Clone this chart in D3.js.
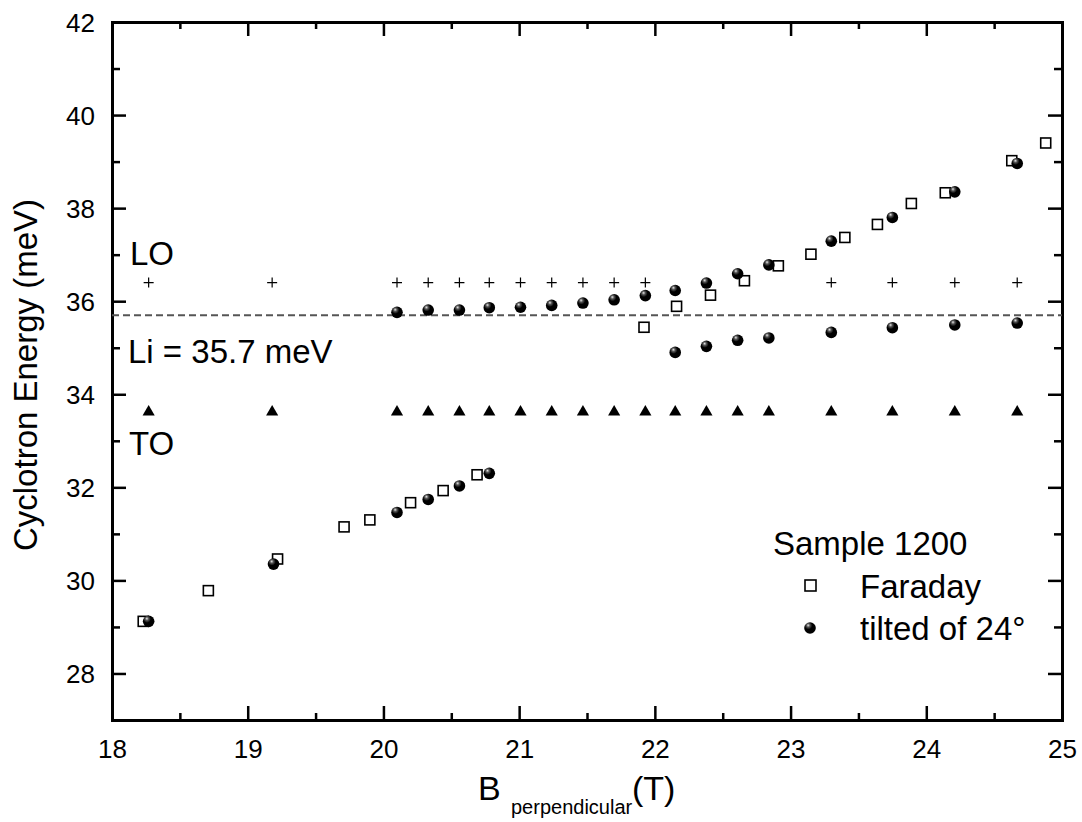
<!DOCTYPE html>
<html>
<head>
<meta charset="utf-8">
<script src="https://cdn.jsdelivr.net/npm/d3@7"></script>
<style>
  html, body { margin: 0; padding: 0; background: #fff; }
  svg text { font-family: "Liberation Sans", Arial, sans-serif; fill: #000; }
</style>
</head>
<body>
<div id="chart"></div>
<script>
// field positions where the phonon reference energies were marked
const toX = [18.27, 19.18, 20.10, 20.33, 20.56, 20.78, 21.01, 21.24, 21.47, 21.70, 21.93,
  22.15, 22.38, 22.61, 22.84, 23.30, 23.75, 24.21, 24.67];
const loX = [18.27, 19.18, 20.10, 20.33, 20.56, 20.78, 21.01, 21.24, 21.47, 21.70, 21.93,
  23.30, 23.75, 24.21, 24.67];
const loEnergy = 36.40;
const toEnergy = 33.62;
const liEnergy = 35.7;

// Faraday geometry
const faradayB = [18.23, 18.71, 19.22, 19.71, 19.90, 20.20, 20.44, 20.69, 21.92, 22.16,
  22.41, 22.66, 22.91, 23.15, 23.40, 23.64, 23.89, 24.14, 24.63, 24.88];
const faradayE = [29.12, 29.78, 30.46, 31.15, 31.30, 31.67, 31.93, 32.27, 35.44, 35.89,
  36.13, 36.44, 36.76, 37.01, 37.37, 37.65, 38.10, 38.33, 39.02, 39.40];

// tilted of 24 deg
const tiltB = [18.27, 19.19, 20.10, 20.33, 20.56, 20.78,
  20.10, 20.33, 20.56, 20.78, 21.01, 21.24, 21.47, 21.70, 21.93, 22.15, 22.38, 22.61, 22.84,
  23.30, 23.75, 24.21, 24.67,
  22.15, 22.38, 22.61, 22.84, 23.30, 23.75, 24.21, 24.67];
const tiltE = [29.12, 30.35, 31.46, 31.74, 32.03, 32.30,
  35.76, 35.81, 35.81, 35.86, 35.87, 35.91, 35.96, 36.03, 36.12, 36.23, 36.39, 36.59, 36.78,
  37.29, 37.80, 38.35, 38.96,
  34.90, 35.03, 35.16, 35.21, 35.33, 35.43, 35.49, 35.53];

const xTicks = [18, 19, 20, 21, 22, 23, 24, 25];
const yTicks = [28, 30, 32, 34, 36, 38, 40, 42];

const width = 1082, height = 822;
const m = { top: 22, right: 20, bottom: 102, left: 112 };

const svg = d3.select('#chart').append('svg')
  .attr('width', width).attr('height', height);

const x = d3.scaleLinear().domain([18, 25]).range([m.left, width - m.right]);
const y = d3.scaleLinear().domain([27, 42]).range([height - m.bottom, m.top]);

const defs = svg.append('defs');
const grad = defs.append('radialGradient').attr('id', 'ball')
  .attr('cx', '38%').attr('cy', '32%').attr('r', '60%').attr('fx', '34%').attr('fy', '26%');
grad.append('stop').attr('offset', '0%').attr('stop-color', '#e8e8e8');
grad.append('stop').attr('offset', '25%').attr('stop-color', '#555');
grad.append('stop').attr('offset', '55%').attr('stop-color', '#000');
grad.append('stop').attr('offset', '100%').attr('stop-color', '#000');

// axes: ticks inward on all four sides
const xMinor = d3.range(18.5, 25, 1);
const yMinor = d3.range(29, 42, 2);

const gBottom = svg.append('g').attr('transform', `translate(0,${y(27)})`)
  .call(d3.axisBottom(x).tickValues(xTicks).tickSize(-14).tickSizeOuter(0).tickFormat(d3.format('d')));
const gBottomMinor = svg.append('g').attr('transform', `translate(0,${y(27)})`)
  .call(d3.axisBottom(x).tickValues(xMinor).tickSize(-7).tickSizeOuter(0).tickFormat(''));
const gTop = svg.append('g').attr('transform', `translate(0,${y(42)})`)
  .call(d3.axisTop(x).tickValues(xTicks).tickSize(-14).tickSizeOuter(0).tickFormat(''));
const gTopMinor = svg.append('g').attr('transform', `translate(0,${y(42)})`)
  .call(d3.axisTop(x).tickValues(xMinor).tickSize(-7).tickSizeOuter(0).tickFormat(''));
const gLeft = svg.append('g').attr('transform', `translate(${x(18)},0)`)
  .call(d3.axisLeft(y).tickValues(yTicks).tickSize(-14).tickSizeOuter(0).tickFormat(d3.format('d')));
const gLeftMinor = svg.append('g').attr('transform', `translate(${x(18)},0)`)
  .call(d3.axisLeft(y).tickValues(yMinor).tickSize(-8).tickSizeOuter(0).tickFormat(''));
const gRight = svg.append('g').attr('transform', `translate(${x(25)},0)`)
  .call(d3.axisRight(y).tickValues(yTicks).tickSize(-14).tickSizeOuter(0).tickFormat(''));
const gRightMinor = svg.append('g').attr('transform', `translate(${x(25)},0)`)
  .call(d3.axisRight(y).tickValues(yMinor).tickSize(-8).tickSizeOuter(0).tickFormat(''));

[gBottom, gBottomMinor, gTop, gTopMinor, gLeft, gLeftMinor, gRight, gRightMinor].forEach(g => {
  g.select('.domain').attr('stroke', '#000').attr('stroke-width', 3).attr('stroke-linecap', 'square');
  g.selectAll('.tick line').attr('stroke', '#000').attr('stroke-width', 2.5);
  g.selectAll('.tick text').attr('font-size', 26).attr('font-family', '"Liberation Sans", Arial, sans-serif');
});
gBottom.selectAll('.tick text').attr('y', 38).attr('dy', null);
gLeft.selectAll('.tick text').attr('x', -17).attr('dy', '0.36em');

// Li reference line
svg.append('line')
  .attr('x1', x(18)).attr('x2', x(25)).attr('y1', y(liEnergy)).attr('y2', y(liEnergy))
  .attr('stroke', '#555').attr('stroke-width', 2).attr('stroke-dasharray', '7,4');

// LO crosses
const cs = 5;
svg.append('g').selectAll('path').data(loX).join('path')
  .attr('d', d => `M${x(d) - cs},${y(loEnergy)}H${x(d) + cs}M${x(d)},${y(loEnergy) - cs}V${y(loEnergy) + cs}`)
  .attr('stroke', '#000').attr('stroke-width', 1.2).attr('fill', 'none');

// TO triangles
const tri = d3.symbol().type(d3.symbolTriangle).size(64);
svg.append('g').selectAll('path').data(toX).join('path')
  .attr('transform', d => `translate(${x(d)},${y(toEnergy)})`)
  .attr('d', tri).attr('fill', '#000');

// Faraday squares
const sq = 10;
svg.append('g').selectAll('rect').data(faradayB).join('rect')
  .attr('x', d => x(d) - sq / 2).attr('y', (d, i) => y(faradayE[i]) - sq / 2)
  .attr('width', sq).attr('height', sq)
  .attr('fill', '#fff').attr('stroke', '#000').attr('stroke-width', 1.6);

// tilted spheres
svg.append('g').selectAll('circle').data(tiltB).join('circle')
  .attr('cx', d => x(d)).attr('cy', (d, i) => y(tiltE[i])).attr('r', 5.8)
  .attr('fill', 'url(#ball)');

// annotations
const ann = svg.append('g').attr('font-size', 33);
ann.append('text').attr('x', 130).attr('y', 265).text('LO');
ann.append('text').attr('x', 128).attr('y', 363).text('Li = 35.7 meV');
ann.append('text').attr('x', 129).attr('y', 455).text('TO');

// legend
const leg = svg.append('g').attr('font-size', 33);
leg.append('text').attr('x', 773).attr('y', 555).text('Sample 1200');
leg.append('rect').attr('x', 805).attr('y', 580).attr('width', 11).attr('height', 11)
  .attr('fill', '#fff').attr('stroke', '#000').attr('stroke-width', 1.6);
leg.append('text').attr('x', 860).attr('y', 598).text('Faraday');
leg.append('circle').attr('cx', 810).attr('cy', 628).attr('r', 5.8).attr('fill', 'url(#ball)');
leg.append('text').attr('x', 860).attr('y', 640).text('tilted of 24°');

// axis titles
svg.append('text')
  .attr('transform', `translate(37,${(y(27) + y(42)) / 2 + 4}) rotate(-90)`)
  .attr('text-anchor', 'middle').attr('font-size', 33)
  .text('Cyclotron Energy (meV)');

const xl = svg.append('text').attr('x', 478).attr('y', 800).attr('font-size', 34);
xl.append('tspan').text('B');
xl.append('tspan').attr('x', 511).attr('dy', 14).attr('font-size', 20).text('perpendicular');
xl.append('tspan').attr('x', 632).attr('dy', -14).text('(T)');
</script>
</body>
</html>
